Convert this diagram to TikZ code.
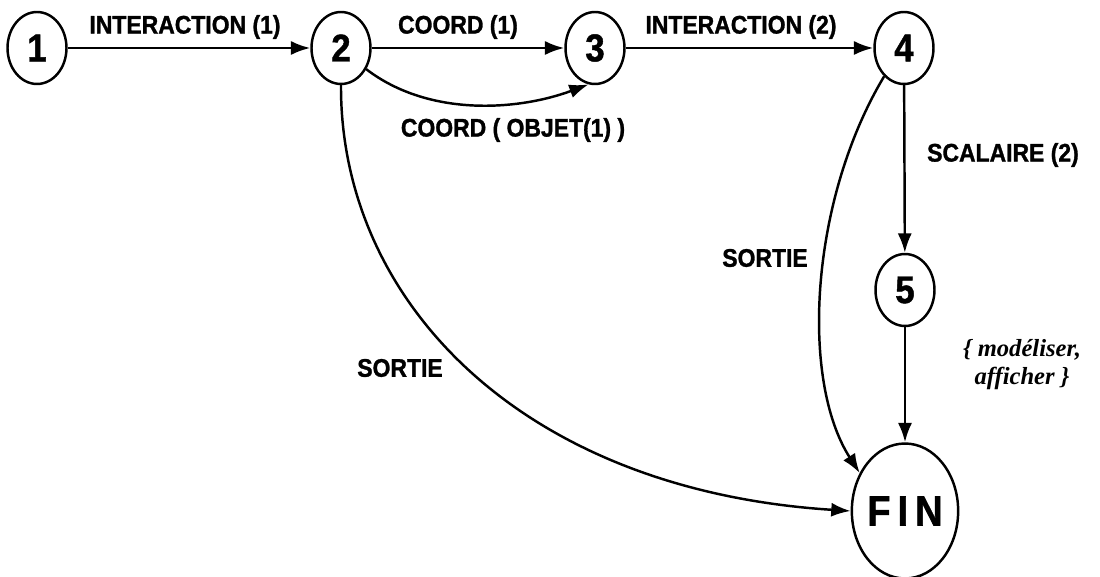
\documentclass[tikz,border=0pt]{standalone}
\usepackage{fontspec}
\setmainfont{Liberation Serif}
\setsansfont{Liberation Sans}
\newfontfamily\lblfont[FakeStretch=0.9,FakeBold=1.2]{Liberation Sans}
\usetikzlibrary{arrows.meta,shapes.geometric}

\begin{document}
\begin{tikzpicture}[x=0.02cm,y=-0.02cm,
	state/.style={ellipse,draw,line width=1.4pt,inner sep=0pt,minimum width=1.18cm,minimum height=1.44cm,
		font=\lblfont\bfseries\fontsize{22}{24}\selectfont},
	lbl/.style={font=\lblfont\bfseries\fontsize{14.5}{16}\selectfont},
	arc/.style={line width=1.4pt,-{Latex[length=11pt,width=8pt]}}]
	\useasboundingbox (0,0) rectangle (1100,577);
%	\draw[help lines,step=50] (0,0) grid (1100,577);

	% states
	\node[state] (st1) at (37,48) {1};
	\node[state] (st2) at (341,48) {2};
	\node[state] (st3) at (595,48) {3};
	\node[state] (st4) at (904,48) {4};
	\node[state] (st5) at (905,290) {5};
	\node[state,minimum width=2.1cm,minimum height=2.7cm,font=\lblfont\bfseries\fontsize{24}{26}\selectfont] (fin) at (905,511) {F\,I\,N};

	% transitions
	\draw[arc] (st1) -- (st2);
	\draw[arc] (st2) -- (st3);
	\draw[arc] (st2.-40) .. controls (430,118) and (520,110) .. (st3.-100);
	\draw[arc] (st3) -- (st4);
	\draw[arc] (st4) -- (st5);
	\draw[arc] (st5) -- (fin);
	\draw[arc] (st4.-125) .. controls (810,200) and (800,380) .. (fin.140);
	\draw[arc] (st2.south) .. controls (340,300) and (520,490) .. (fin.west);

	% labels
	\node[lbl] (l12) at (185,27) {INTERACTION (1)};
	\node[lbl] (l23) at (458,27) {COORD (1)};
	\node[lbl] (l23b) at (513,130) {COORD ( OBJET(1) )};
	\node[lbl] (l34) at (741,27) {INTERACTION (2)};
	\node[lbl] (l45) at (1003,155) {SCALAIRE (2)};
	\node[lbl] (l4f) at (765,258) {SORTIE};
	\node[lbl] (l2f) at (400,368) {SORTIE};
	\node[font=\bfseries\itshape\fontsize{14}{16}\selectfont,align=center] (l5f) at (1022,365) {\{ modéliser,\\ afficher \}};
\end{tikzpicture}
\end{document}
